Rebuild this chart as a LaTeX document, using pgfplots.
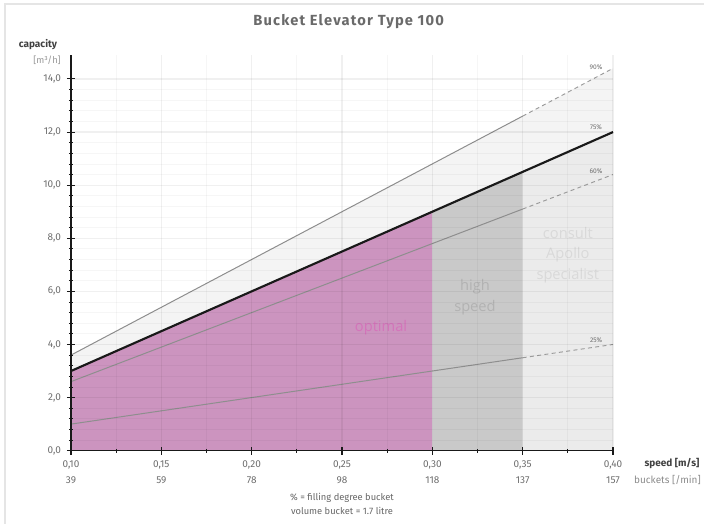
\documentclass[border=0pt]{standalone}
\usepackage{fontspec}
\setmainfont{Fira Sans}
\newfontfamily\opensans{Open Sans}
\newfontfamily\titlefont[LetterSpace=8]{Fira Sans}
\usepackage{pgfplots}
\pgfplotsset{compat=1.18}
\definecolor{optimal}{HTML}{CC94BF}
\definecolor{optimaltext}{HTML}{D474BA}
\definecolor{highspeed}{HTML}{C9C9C9}
\definecolor{consult}{HTML}{EBEBEB}
\definecolor{band}{HTML}{F4F4F4}
\definecolor{ticktext}{HTML}{6E6E6E}
\definecolor{titletext}{HTML}{6A6A6A}
\definecolor{linegray}{HTML}{8E8E8E}
\definecolor{dashgray}{HTML}{9A9A9A}
\begin{document}
\begin{tikzpicture}
\useasboundingbox (0,0) rectangle (528pt,393pt);
\draw[color=black!10, line width=1.1pt] (3.9pt,-10pt) -- (3.9pt,390pt) -- (540pt,390pt);
\begin{axis}[
  at={(53.25pt,55pt)}, anchor=south west,
  scale only axis, width=406.5pt, height=296.7pt,
  xmin=0.1, xmax=0.4, ymin=0, ymax=14.9,
  axis x line=bottom, axis y line=left,
  axis line style={-, black!90, line width=0.9pt},
  axis on top,
  xtick={0.1,0.15,0.2,0.25,0.3,0.35,0.4},
  xticklabels={{0,10\\39},{0,15\\59},{0,20\\78},{0,25\\98},{0,30\\118},{0,35\\137},{0,40\\157}},
  minor x tick num=1,
  ytick={0,2,4,6,8,10,12,14},
  minor y tick num=4,
  tick align=center,
  major tick length=6pt,
  minor tick length=3pt,
  tick style={black!90, line width=0.8pt},
  minor tick style={black!90, line width=0.6pt},
  grid=both,
  major grid style={black, opacity=0.06, line width=0.9pt},
  minor grid style={black, opacity=0.035, line width=0.6pt},
  xticklabel style={align=center, font=\fontsize{7.5}{12}\selectfont, text=ticktext, yshift=-1pt},
  yticklabel style={font=\fontsize{7.5}{9}\selectfont, text=ticktext, xshift=-1pt},
  yticklabel={\pgfmathprintnumber[fixed, fixed zerofill, precision=1, use comma, assume math mode=true]{\tick}},
  clip=false,
]
% band between 75% and 90%
\addplot[fill=band, draw=none] coordinates {(0.1,3.0) (0.4,12.0) (0.4,14.4) (0.1,3.6)} -- cycle;
% optimal
\addplot[fill=optimal, draw=none] coordinates {(0.1,0) (0.1,3.0) (0.3,9.0) (0.3,0)} -- cycle;
% high speed
\addplot[fill=highspeed, draw=none] coordinates {(0.3,0) (0.3,9.0) (0.35,10.5) (0.35,0)} -- cycle;
% consult
\addplot[fill=consult, draw=none] coordinates {(0.35,0) (0.35,10.5) (0.4,12.0) (0.4,0)} -- cycle;
% 90%
\addplot[linegray, line width=0.75pt] coordinates {(0.1,3.6) (0.35,12.6)};
\addplot[dashgray, line width=0.7pt, dash pattern=on 3pt off 2.5pt] coordinates {(0.35,12.6) (0.4,14.4)};
% 60%
\addplot[linegray, line width=0.75pt] coordinates {(0.1,2.6) (0.35,9.1)};
\addplot[dashgray, line width=0.7pt, dash pattern=on 3pt off 2.5pt] coordinates {(0.35,9.1) (0.4,10.4)};
% 25%
\addplot[linegray, line width=0.75pt] coordinates {(0.1,1.0) (0.35,3.5)};
\addplot[dashgray, line width=0.7pt, dash pattern=on 3pt off 2.5pt] coordinates {(0.35,3.5) (0.4,4.0)};
% 75%
\addplot[black!90, line width=1.6pt] coordinates {(0.1,3.0) (0.4,12.0)};
% percent labels
\node[font=\fontsize{5}{6}\selectfont, text=ticktext] at (axis cs:0.3906,14.45) {90\%};
\node[font=\fontsize{5}{6}\selectfont, text=ticktext] at (axis cs:0.3906,12.19) {75\%};
\node[font=\fontsize{5}{6}\selectfont, text=ticktext] at (axis cs:0.3906,10.53) {60\%};
\node[font=\fontsize{5}{6}\selectfont, text=ticktext] at (axis cs:0.3906,4.17) {25\%};
% region labels
\node[font=\opensans\fontsize{11}{15.5}\selectfont, text=optimaltext] at (axis cs:0.2716,4.63) {optimal};
\node[font=\opensans\fontsize{11}{15.5}\selectfont, text=black!30, align=center] at (axis cs:0.3236,5.79) {high\\speed};
\node[font=\opensans\fontsize{11}{15.5}\selectfont, text=black!15, align=center] at (axis cs:0.375,7.37) {consult\\Apollo\\specialist};
\end{axis}
\node[font=\titlefont\bfseries\fontsize{11}{13}\selectfont, text=titletext] at (261.5pt,376.5pt) {Bucket Elevator Type 100};
\node[font=\bfseries\fontsize{7.5}{9}\selectfont, text=black!75] at (28.5pt,359.25pt) {capacity};
\node[font=\fontsize{7}{9}\selectfont, text=black!40] at (35.25pt,348pt) {[m³/h]};
\node[font=\bfseries\fontsize{7.5}{9}\selectfont, text=black!75] at (504pt,45pt) {speed [m/s]};
\node[font=\fontsize{7.5}{9}\selectfont, text=black!45] at (500.6pt,33pt) {buckets [/min]};
\node[font=\fontsize{7}{8.5}\selectfont, text=black!60] at (256.5pt,19.5pt) {\% = filling degree bucket};
\node[font=\fontsize{7}{8.5}\selectfont, text=black!60] at (256.5pt,9.5pt) {volume bucket = 1.7 litre};
\end{tikzpicture}
\end{document}
